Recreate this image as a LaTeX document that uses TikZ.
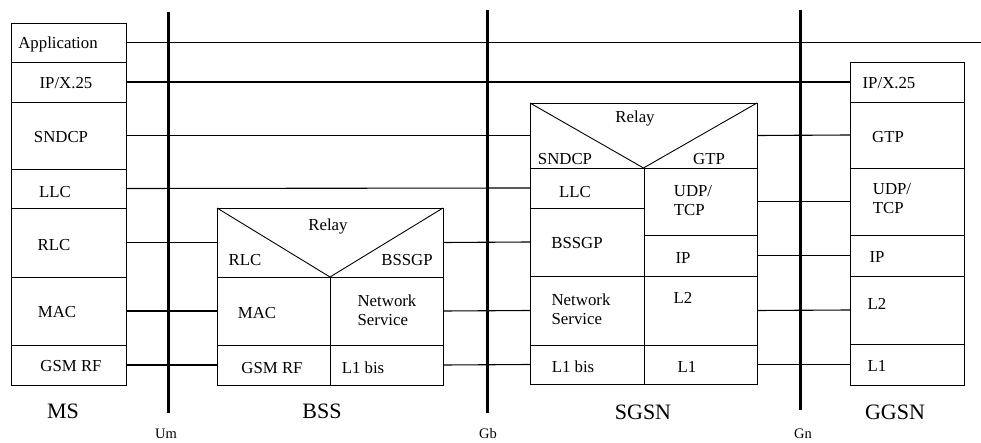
\documentclass[tikz,border=0pt]{standalone}
\usepackage{fontspec}
\setmainfont{Liberation Serif}
\usetikzlibrary{fit}
\begin{document}
\begin{tikzpicture}[x=1pt,y=-1pt,
  cellbox/.style={draw, line width=0.9pt, inner sep=0pt, outer sep=0pt},
  lbl/.style={inner sep=0pt, font=\fontsize{16.8}{18}\selectfont},
  lbltwo/.style={lbl, align=left, font=\fontsize{16.8}{19}\selectfont},
  big/.style={inner sep=0pt, font=\fontsize{22}{24}\selectfont},
  iface/.style={inner sep=0pt, font=\fontsize{14.5}{16}\selectfont},
  conn/.style={line width=1.1pt},
  bar/.style={line width=3pt}]
\useasboundingbox (0,0) rectangle (981,443);
% ---------- interface bars
\coordinate (umT) at (168,12); \coordinate (umB) at (168,413);
\coordinate (gbT) at (487,10); \coordinate (gbB) at (487,413);
\coordinate (gnT) at (800,10); \coordinate (gnB) at (800,410);
\draw[bar] (umT) -- (umB);
\draw[bar] (gbT) -- (gbB);
\draw[bar] (gnT) -- (gnB);
\node[iface] (um) at (166,434) {Um};
\node[iface] (gb) at (488,434) {Gb};
\node[iface] (gn) at (803,434) {Gn};
% ---------- MS
\node[cellbox, fit={(11,23)(126,62)}] (msapp) {};
\node[cellbox, fit={(11,62)(126,102)}] (msip) {};
\node[cellbox, fit={(11,102)(126,169)}] (mssn) {};
\node[cellbox, fit={(11,169)(126,208)}] (msllc) {};
\node[cellbox, fit={(11,208)(126,277)}] (msrlc) {};
\node[cellbox, fit={(11,277)(126,345)}] (msmac) {};
\node[cellbox, fit={(11,345)(126,385)}] (msrf) {};
\node[lbl] (tmsapp) at (58,44) {Application};
\node[lbl] (tmsip) at (66,83) {IP/X.25};
\node[lbl] (tmssn) at (61,137) {SNDCP};
\node[lbl] (tmsllc) at (55,192) {LLC};
\node[lbl] (tmsrlc) at (54,245) {RLC};
\node[lbl] (tmsmac) at (57,312) {MAC};
\node[lbl] (tmsrf) at (71,366) {GSM RF};
\node[big] (tms) at (63,411) {MS};
% ---------- BSS
\node[cellbox, fit={(217,208)(443,277)}] (bssrel) {};
\node[cellbox, fit={(217,277)(330,345)}] (bssmac) {};
\node[cellbox, fit={(330,277)(443,345)}] (bssns) {};
\node[cellbox, fit={(217,345)(330,385)}] (bssrf) {};
\node[cellbox, fit={(330,345)(443,385)}] (bssl1) {};
\draw[line width=0.9pt] (bssrel.north west) -- (bssrel.south) -- (bssrel.north east);
\node[lbl] (tbssrel) at (328,226) {Relay};
\node[lbl] (tbssrlc) at (245,260) {RLC};
\node[lbl] (tbssgp) at (407,260) {BSSGP};
\node[lbl] (tbssmac) at (257,313) {MAC};
\node[lbltwo] (tbssns) at (387,310) {Network\\Service};
\node[lbl] (tbssrf) at (272,368) {GSM RF};
\node[lbl] (tbssl1) at (363,368) {L1 bis};
\node[big] (tbss) at (322,411) {BSS};
% ---------- SGSN
\node[cellbox, fit={(530,103)(757,168)}] (sgrel) {};
\node[cellbox, fit={(530,168)(644,208)}] (sgllc) {};
\node[cellbox, fit={(530,208)(644,276)}] (sgbssgp) {};
\node[cellbox, fit={(530,276)(644,345)}] (sgns) {};
\node[cellbox, fit={(530,345)(644,384)}] (sgl1b) {};
\node[cellbox, fit={(644,168)(757,235)}] (sgudp) {};
\node[cellbox, fit={(644,235)(757,276)}] (sgip) {};
\node[cellbox, fit={(644,276)(757,345)}] (sgl2) {};
\node[cellbox, fit={(644,345)(757,384)}] (sgl1) {};
\draw[line width=0.9pt] (sgrel.north west) -- (sgrel.south) -- (sgrel.north east);
\node[lbl] (tsgrel) at (635,118) {Relay};
\node[lbl] (tsgsn) at (565,159) {SNDCP};
\node[lbl] (tsggtp) at (709,159) {GTP};
\node[lbl] (tsgllc) at (575,192) {LLC};
\node[lbltwo] (tsgudp) at (693,201) {UDP/\\TCP};
\node[lbl] (tsgbssgp) at (577,243) {BSSGP};
\node[lbl] (tsgip) at (683,258) {IP};
\node[lbltwo] (tsgns) at (581,309) {Network\\Service};
\node[lbl] (tsgl2) at (683,298) {L2};
\node[lbl] (tsgl1b) at (573,367) {L1 bis};
\node[lbl] (tsgl1) at (687,367) {L1};
\node[big] (tsg) at (643,412) {SGSN};
% ---------- GGSN
\node[cellbox, fit={(850,62)(964,102)}] (ggip) {};
\node[cellbox, fit={(850,102)(964,168)}] (gggtp) {};
\node[cellbox, fit={(850,168)(964,235)}] (ggudp) {};
\node[cellbox, fit={(850,235)(964,276)}] (ggipl) {};
\node[cellbox, fit={(850,276)(964,344)}] (ggl2) {};
\node[cellbox, fit={(850,344)(964,385)}] (ggl1) {};
\node[lbl] (tggip) at (889,83) {IP/X.25};
\node[lbl] (tgggtp) at (888,137) {GTP};
\node[lbltwo] (tggudp) at (892,199) {UDP/\\TCP};
\node[lbl] (tggipl) at (877,257) {IP};
\node[lbl] (tggl2) at (877,304) {L2};
\node[lbl] (tggl1) at (877,366) {L1};
\node[big] (tgg) at (895,412) {GGSN};
% ---------- connectors
\coordinate (rightend) at (981,43);
\draw[conn] (msapp.east) -- (msapp.east -| rightend);
\draw[conn] (msip.east) -- (ggip.west);
\draw[conn] (mssn.east) -- (sgrel.west);
\draw[conn] (msllc.east) -- (sgllc.west);
\draw[conn] (msrlc.east) -- (bssrel.west);
\draw[conn] (msmac.east) -- (bssmac.west);
\draw[conn] (msrf.east) -- (bssrf.west);
\draw[conn] (bssrel.east) -- (sgbssgp.west);
\draw[conn] (bssns.east) -- (sgns.west);
\draw[conn] (bssl1.east) -- (sgl1b.west);
\draw[conn] (sgrel.east) -- (gggtp.west);
\draw[conn] (sgudp.east) -- (ggudp.west);
\draw[conn] (sgip.east) -- (ggipl.west);
\draw[conn] (sgl2.east) -- (ggl2.west);
\draw[conn] (sgl1.east) -- (ggl1.west);
\end{tikzpicture}
\end{document}
